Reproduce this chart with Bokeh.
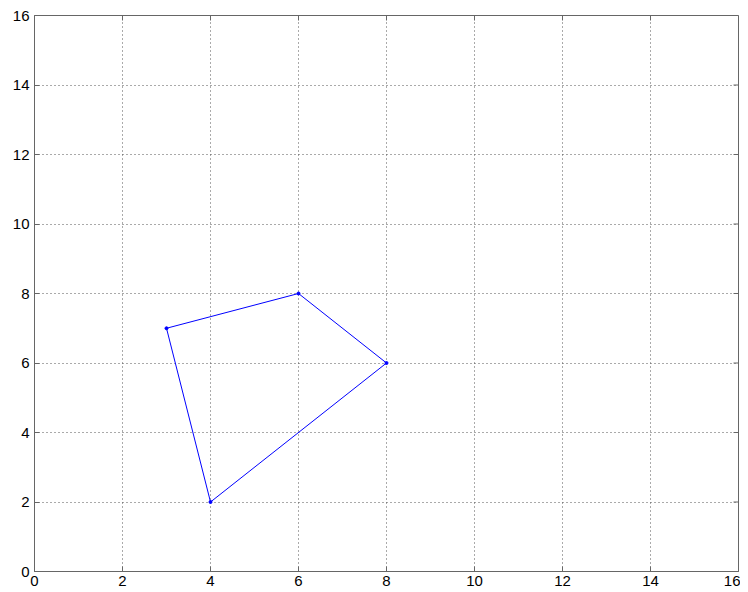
import math
from bokeh.plotting import figure
from bokeh.models import Range1d, FixedTicker
from bokeh.embed import file_html
from bokeh.resources import INLINE

xs = [3, 6, 8, 4, 3]
ys = [7, 8, 6, 2, 7]
ticks = [0, 2, 4, 6, 8, 10, 12, 14, 16]
x_max = 16
y_max = 16

p = figure(width=740, height=590, output_backend="svg", toolbar_location=None,
           x_range=Range1d(0, x_max), y_range=Range1d(0, y_max),
           min_border_left=34, min_border_right=2, min_border_top=15, min_border_bottom=19)
p.background_fill_color = "white"
p.border_fill_color = "white"
p.outline_line_color = "#666666"
p.outline_line_width = 1

for g in (p.xgrid[0], p.ygrid[0]):
    g.ticker = FixedTicker(ticks=ticks)
    g.grid_line_color = "#555555"
    g.grid_line_dash = "1 3"
    g.grid_line_width = 1

# inward tick marks on the right and top edges (box style)
p.ray(x=[x_max] * len(ticks), y=ticks, length=5, length_units="screen",
      angle=math.pi, line_color="#666666", line_width=1)
p.ray(x=ticks, y=[y_max] * len(ticks), length=5, length_units="screen",
      angle=-math.pi / 2, line_color="#666666", line_width=1)

p.line(xs, ys, line_color="#0000ff", line_width=1)
p.scatter(xs[:-1], ys[:-1], size=3, color="#0000ff")

for ax in p.xaxis + p.yaxis:
    ax.ticker = FixedTicker(ticks=ticks)
    ax.axis_line_color = "#666666"
    ax.major_tick_in = 5
    ax.major_tick_out = 0
    ax.minor_tick_line_color = None
    ax.major_tick_line_color = "#666666"
    ax.major_label_text_font = "Liberation Sans"
    ax.major_label_text_font_size = "15px"
    ax.major_label_text_color = "black"
p.xaxis.major_label_standoff = 4
p.yaxis.major_label_standoff = 5

open("out.html", "w").write(file_html(p, INLINE))
